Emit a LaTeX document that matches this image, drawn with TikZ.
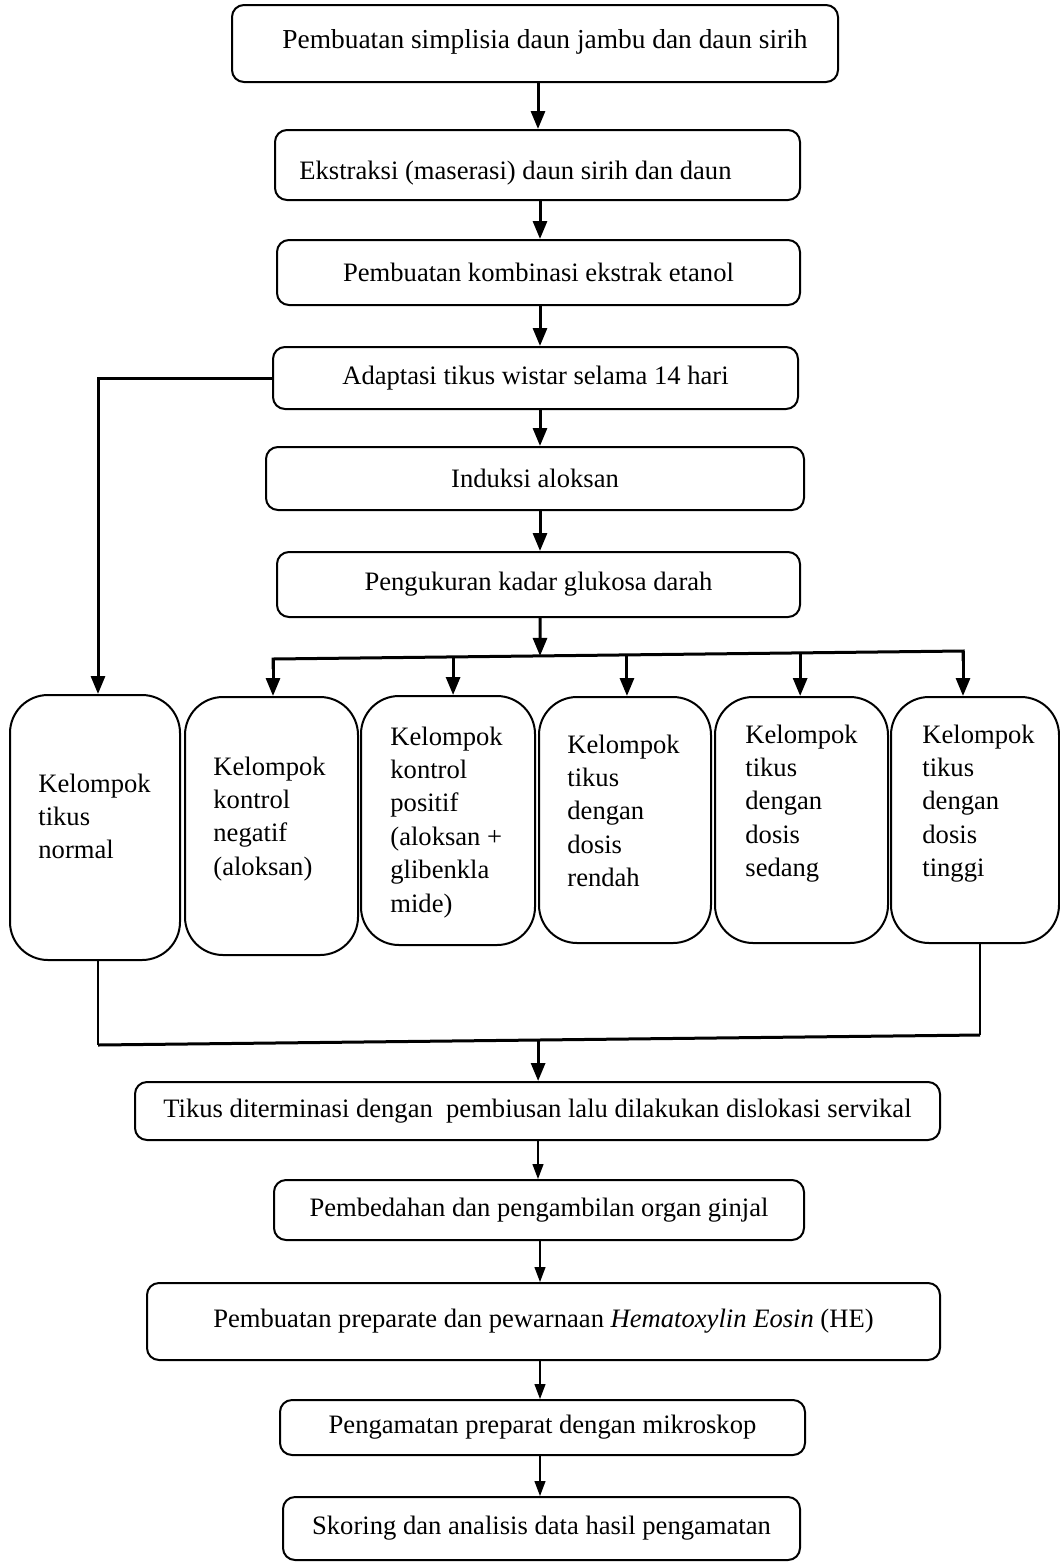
\documentclass[tikz,border=0pt]{standalone}
\usepackage{fontspec}
\setmainfont{Liberation Serif}
\usetikzlibrary{arrows.meta,calc}
\begin{document}
\begin{tikzpicture}[x=0.5pt,y=-0.5pt,
  every node/.style={font=\fontsize{13.3}{16.7}\selectfont},
  box/.style={draw,line width=1pt,rounded corners=6pt,inner sep=0pt},
  gbox/.style={draw,line width=1pt,rounded corners=19pt,inner sep=0pt},
  gtext/.style={anchor=base west,inner sep=0pt},
  thk/.style={line width=1.5pt,-{Triangle[length=9pt,width=7pt]}},
  thn/.style={line width=0.6pt,-{Triangle[length=7.5pt,width=5.5pt]}},
  joinline/.style={line width=1.5pt},
]
\useasboundingbox (0,0) rectangle (1060,1565);

% main boxes
\node[box,minimum width=303pt,minimum height=38.5pt] (b1) at (535,43.5) {};
\node[inner sep=0pt,anchor=base,font=\fontsize{13.7}{16.7}\selectfont] (b1t) at (545,48) {Pembuatan simplisia daun jambu dan daun sirih};
\node[box,minimum width=262.5pt,minimum height=35pt] (b2) at (537.5,165) {};
\node[inner sep=0pt,anchor=base west] (b2t) at (299,179) {Ekstraksi (maserasi) daun sirih dan daun};
\node[box,minimum width=261.5pt,minimum height=32.5pt] (b3) at (538.5,272.5) {Pembuatan kombinasi ekstrak etanol};
\node[box,minimum width=262.5pt,minimum height=31pt] (b4) at (535.5,378) {Adaptasi tikus wistar selama 14 hari};
\node[box,minimum width=269pt,minimum height=31.5pt] (b5) at (535,478.5) {Induksi aloksan};
\node[box,minimum width=261.5pt,minimum height=32.5pt] (b6) at (538.5,584.5) {Pengukuran kadar glukosa darah};

% group boxes
\node[gbox,minimum width=85pt,minimum height=132.5pt] (g1) at (95,827.5) {};
\node[gbox,minimum width=86.5pt,minimum height=129pt] (g2) at (271.5,826) {};
\node[gbox,minimum width=87pt,minimum height=124.5pt] (g3) at (448,820.5) {};
\node[gbox,minimum width=86pt,minimum height=123pt] (g4) at (625,820) {};
\node[gbox,minimum width=86.5pt,minimum height=123pt] (g5) at (801.5,820) {};
\node[gbox,minimum width=84pt,minimum height=123pt] (g6) at (975,820) {};

\node[gtext] (g1t) at (38,792) {\parbox[t]{80pt}{\raggedright Kelompok\\tikus\\normal}};
\node[gtext] (g2t) at (213,775) {\parbox[t]{80pt}{\raggedright Kelompok\\kontrol\\negatif\\(aloksan)}};
\node[gtext] (g3t) at (390,745) {\parbox[t]{80pt}{\raggedright Kelompok\\kontrol\\positif\\(aloksan +\\glibenkla\\mide)}};
\node[gtext] (g4t) at (567,753) {\parbox[t]{80pt}{\raggedright Kelompok\\tikus\\dengan\\dosis\\rendah}};
\node[gtext] (g5t) at (745,743) {\parbox[t]{80pt}{\raggedright Kelompok\\tikus\\dengan\\dosis\\sedang}};
\node[gtext] (g6t) at (922,743) {\parbox[t]{80pt}{\raggedright Kelompok\\tikus\\dengan\\dosis\\tinggi}};

% lower boxes
\node[box,minimum width=402.5pt,minimum height=29pt] (t1) at (537.5,1111) {Tikus diterminasi dengan\ \ pembiusan lalu dilakukan dislokasi servikal};
\node[box,minimum width=265pt,minimum height=30pt] (t2) at (539,1210) {Pembedahan dan pengambilan organ ginjal};
\node[box,minimum width=396.5pt,minimum height=38.5pt] (t3) at (543.5,1321.5) {Pembuatan preparate dan pewarnaan \textit{Hematoxylin Eosin} (HE)};
\node[box,minimum width=262.5pt,minimum height=27.5pt] (t4) at (542.5,1427.5) {Pengamatan preparat dengan mikroskop};
\node[box,minimum width=258.5pt,minimum height=31.5pt] (t5) at (541.5,1528.5) {Skoring dan analisis data hasil pengamatan};

% upper connectors
\draw[thk] (b1.south -| 538,0) -- (b2.north -| 538,0);
\draw[thk] (b2.south -| 540,0) -- (b3.north -| 540,0);
\draw[thk] (b3.south -| 540,0) -- (b4.north -| 540,0);
\draw[thk] (b4.south -| 540,0) -- (b5.north -| 540,0);
\draw[thk] (b5.south -| 540,0) -- (b6.north -| 540,0);

% bus
\coordinate (busL) at (273,659);
\coordinate (busR) at (963,651);
\draw[thk] (b6.south -| 540,0) -- ($(busL)!0.387!(busR)$);
\draw[joinline] ($(busL)+(0,10)$) -- (busL) -- (busR) -- ($(busR)+(0,10)$);
\draw[thk] (busL) -- (busL |- g2.north);
\draw[thk] ($(busL)!0.261!(busR)$) coordinate (p3) -- (p3 |- g3.north);
\draw[thk] ($(busL)!0.513!(busR)$) coordinate (p4) -- (p4 |- g4.north);
\draw[thk] ($(busL)!0.764!(busR)$) coordinate (p5) -- (p5 |- g5.north);
\draw[thk] (busR) -- (busR |- g6.north);

% left branch
\coordinate (lc) at (98,378);
\draw[thk] (b4.west) -- (lc) -- (lc |- g1.north);

% join below groups
\coordinate (jL) at (98,1045);
\coordinate (jR) at (980,1035);
\draw[line width=1pt] (jL |- g1.south) -- (jL);
\draw[line width=1pt] (jR |- g6.south) -- (jR);
\draw[joinline] (jL) -- (jR);
\draw[thk] ($(jL)!0.499!(jR)$) coordinate (jm) -- (jm |- t1.north);

% lower connectors
\draw[thn] (t1.south -| 538,0) -- (t2.north -| 538,0);
\draw[thn] (t2.south -| 540,0) -- (t3.north -| 540,0);
\draw[thn] (t3.south -| 540,0) -- (t4.north -| 540,0);
\draw[thn] (t4.south -| 540,0) -- (t5.north -| 540,0);
\end{tikzpicture}
\end{document}
